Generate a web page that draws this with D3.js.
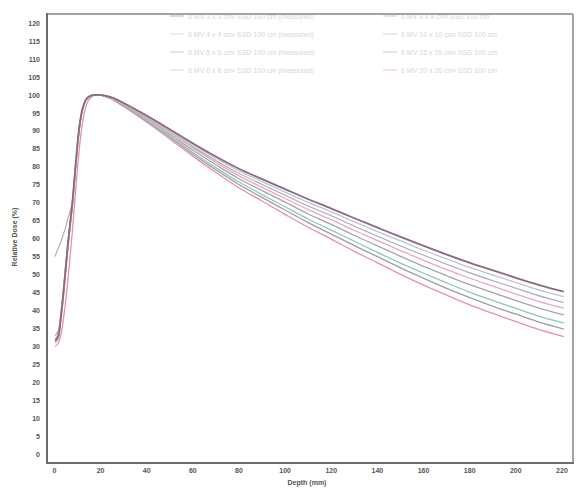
<!DOCTYPE html>
<html>
<head>
<meta charset="utf-8">
<script src="https://cdn.jsdelivr.net/npm/d3@7/dist/d3.min.js"></script>
<style>
  html, body { margin: 0; padding: 0; background: #ffffff; }
  svg { display: block; font-family: "Liberation Sans", Arial, sans-serif; }
</style>
</head>
<body>
<svg id="chart" width="580" height="490"></svg>
<script>
// Depth (mm) at which every curve is sampled
const depths = [0.5, 2, 3, 4, 5, 6, 7, 8, 9, 10, 11, 12, 13, 14, 16, 18, 20, 22, 25, 30,
  40, 50, 60, 70, 80, 90, 100, 110, 120, 130, 140, 150, 160, 170, 180, 190, 200, 210, 221];

// Relative dose (%) per curve
const doseA = [31.5, 33, 38, 44, 51, 58, 64, 70, 77.5, 85, 91, 95, 97.4, 98.8, 99.8, 100, 100, 99.8, 99.3, 97.8,
  94.3, 90.5, 86.6, 82.9, 79.5, 76.6, 73.8, 71.0, 68.4, 65.7, 63.1, 60.5, 58.0, 55.6, 53.3, 51.2, 49.1, 47.1, 45.2];
const doseB = [32, 33.5, 38.5, 44.5, 51, 57.5, 63.5, 69.5, 77, 84.5, 90.5, 94.8, 97.2, 98.6, 99.7, 100, 100, 99.8, 99.2, 97.7,
  94.1, 90.2, 86.2, 82.4, 78.9, 75.9, 73.0, 70.1, 67.5, 64.7, 62.0, 59.4, 56.8, 54.4, 52.0, 49.9, 47.8, 45.7, 43.8];
const doseC = [55, 57.5, 59, 61, 63, 65.5, 67.5, 70.5, 77, 84.5, 90.5, 94.8, 97.2, 98.6, 99.7, 100, 99.9, 99.7, 99.2, 97.6,
  93.9, 89.9, 85.7, 81.8, 78.2, 75.1, 72.1, 69.1, 66.4, 63.5, 60.7, 58.0, 55.4, 52.9, 50.5, 48.3, 46.2, 44.1, 42.2];
const doseD = [31, 32.5, 37, 43, 50, 57, 63, 69, 76.5, 84, 90.5, 94.8, 97.2, 98.6, 99.7, 100, 99.9, 99.7, 99.1, 97.4,
  93.6, 89.5, 85.3, 81.3, 77.5, 74.3, 71.2, 68.1, 65.3, 62.3, 59.5, 56.7, 54.0, 51.4, 49.0, 46.8, 44.6, 42.5, 40.6];
const doseE = [33, 34.5, 39, 45, 52, 58.5, 64.5, 70, 77.5, 85, 91, 95, 97.4, 98.8, 99.8, 100, 99.9, 99.7, 99.0, 97.3,
  93.4, 89.1, 84.7, 80.6, 76.7, 73.4, 70.2, 66.9, 64.0, 60.9, 58.0, 55.1, 52.3, 49.7, 47.2, 45.0, 42.8, 40.7, 38.7];
const doseF = [32, 33.5, 38, 44, 51, 58, 64, 69.5, 77, 84.5, 90.5, 94.8, 97.2, 98.6, 99.7, 100, 99.9, 99.7, 98.9, 97.1,
  93.0, 88.6, 84.1, 79.8, 75.8, 72.3, 68.9, 65.5, 62.4, 59.3, 56.2, 53.2, 50.4, 47.7, 45.1, 42.8, 40.6, 38.4, 36.5];
const doseG = [31, 32.5, 37.5, 43.5, 50.5, 57.5, 63.5, 69, 76.5, 84, 90.5, 94.8, 97.2, 98.6, 99.7, 100, 99.9, 99.6, 98.9, 97.0,
  92.8, 88.3, 83.6, 79.2, 75.1, 71.5, 68.0, 64.5, 61.3, 58.1, 55.0, 51.9, 49.0, 46.2, 43.6, 41.2, 39.0, 36.8, 34.8];
const doseH = [30, 31, 33, 37, 42, 48, 55, 62, 70, 78, 85, 90.5, 94.5, 97, 99.3, 99.9, 100, 99.6, 98.8, 96.8,
  92.5, 87.8, 83.0, 78.5, 74.2, 70.5, 66.8, 63.2, 59.9, 56.5, 53.3, 50.1, 47.1, 44.3, 41.6, 39.2, 36.9, 34.7, 32.7];

const seriesNames = [
  "6 MV  3 x 3 cm²  SSD 100 cm  (measured)",
  "6 MV  4 x 4 cm²  SSD 100 cm  (measured)",
  "6 MV  5 x 5 cm²  SSD 100 cm  (measured)",
  "6 MV  6 x 6 cm²  SSD 100 cm  (measured)",
  "6 MV  8 x 8 cm²  SSD 100 cm",
  "6 MV  10 x 10 cm²  SSD 100 cm",
  "6 MV  15 x 15 cm²  SSD 100 cm",
  "6 MV  20 x 20 cm²  SSD 100 cm"
];

const xTicks = [0, 20, 40, 60, 80, 100, 120, 140, 160, 180, 200, 220];
const yTicks = d3.range(0, 121, 5);

const curves = [
  { name: seriesNames[7], values: doseH, color: "#e98fae", width: 1.3 },
  { name: seriesNames[6], values: doseG, color: "#9d9da3", width: 1.3 },
  { name: seriesNames[5], values: doseF, color: "#8ec9ae", width: 1.3 },
  { name: seriesNames[4], values: doseE, color: "#a6a6a8", width: 1.3 },
  { name: seriesNames[3], values: doseD, color: "#eda6c0", width: 1.3 },
  { name: seriesNames[2], values: doseC, color: "#aaaaaf", width: 1.1 },
  { name: seriesNames[1], values: doseB, color: "#bac4d8", width: 1.3 },
  { name: seriesNames[0], values: doseA, color: "#8a6a7e", width: 1.8 }
];

const svg = d3.select("#chart");

const x = d3.scaleLinear().domain([-3, 225]).range([47, 573]);
const y = d3.scaleLinear().domain([-2.5, 122.5]).range([463, 14]);

// legend (two columns, four rows)
const legendCols = [170, 383];
const legendRows = [16, 34, 52, 70];
const legend = svg.append("g").attr("class", "legend");
curves.slice().reverse().forEach((c, i) => {
  const col = i < 4 ? 0 : 1;
  const row = i % 4;
  const gx = legendCols[col], gy = legendRows[row];
  legend.append("line")
    .attr("x1", gx).attr("x2", gx + 14)
    .attr("y1", gy).attr("y2", gy)
    .attr("stroke", c.color).attr("stroke-width", 1.2).attr("opacity", 0.45);
  legend.append("text")
    .attr("x", gx + 18).attr("y", gy + 2.5)
    .attr("font-size", 7)
    .attr("fill", "#d6d6d6")
    .text(c.name);
});

// axes
const yAxis = d3.axisLeft(y).tickValues(yTicks).tickSize(0).tickPadding(7).tickFormat(d3.format("d"));
const gy = svg.append("g").attr("transform", `translate(47,0)`).call(yAxis);
gy.select(".domain").remove();
gy.selectAll("text").attr("font-size", 7).attr("font-weight", "bold").attr("fill", "#555");

const xAxis = d3.axisBottom(x).tickValues(xTicks).tickSize(0).tickPadding(5).tickFormat(d3.format("d"));
const gx = svg.append("g").attr("transform", `translate(0,463)`).call(xAxis);
gx.select(".domain").remove();
gx.selectAll("text").attr("font-size", 7).attr("font-weight", "bold").attr("fill", "#555");

// axis titles
svg.append("text")
  .attr("x", 307).attr("y", 485)
  .attr("text-anchor", "middle")
  .attr("font-size", 7).attr("font-weight", "bold").attr("fill", "#555")
  .text("Depth (mm)");
svg.append("text")
  .attr("transform", "translate(17,237) rotate(-90)")
  .attr("text-anchor", "middle")
  .attr("font-size", 7).attr("font-weight", "bold").attr("fill", "#555")
  .text("Relative Dose (%)");

// depth-dose curves
const line = d3.line()
  .x((d, i) => x(depths[i]))
  .y(d => y(d))
  .curve(d3.curveMonotoneX);

svg.append("g").attr("class", "curves")
  .selectAll("path")
  .data(curves)
  .join("path")
  .attr("d", c => line(c.values))
  .attr("fill", "none")
  .attr("stroke", c => c.color)
  .attr("stroke-width", c => c.width)
  .attr("stroke-linejoin", "round");

// plot frame
const frame = svg.append("g").attr("class", "frame");
frame.append("line").attr("x1", 47).attr("x2", 573).attr("y1", 14).attr("y2", 14)
  .attr("stroke", "#a3a3a3").attr("stroke-width", 2);
frame.append("line").attr("x1", 573).attr("x2", 573).attr("y1", 14).attr("y2", 463)
  .attr("stroke", "#a3a3a3").attr("stroke-width", 2);
frame.append("line").attr("x1", 47).attr("x2", 47).attr("y1", 13).attr("y2", 464)
  .attr("stroke", "#6d6d6d").attr("stroke-width", 2);
frame.append("line").attr("x1", 46).attr("x2", 574).attr("y1", 463).attr("y2", 463)
  .attr("stroke", "#6d6d6d").attr("stroke-width", 2);
</script>
</body>
</html>
